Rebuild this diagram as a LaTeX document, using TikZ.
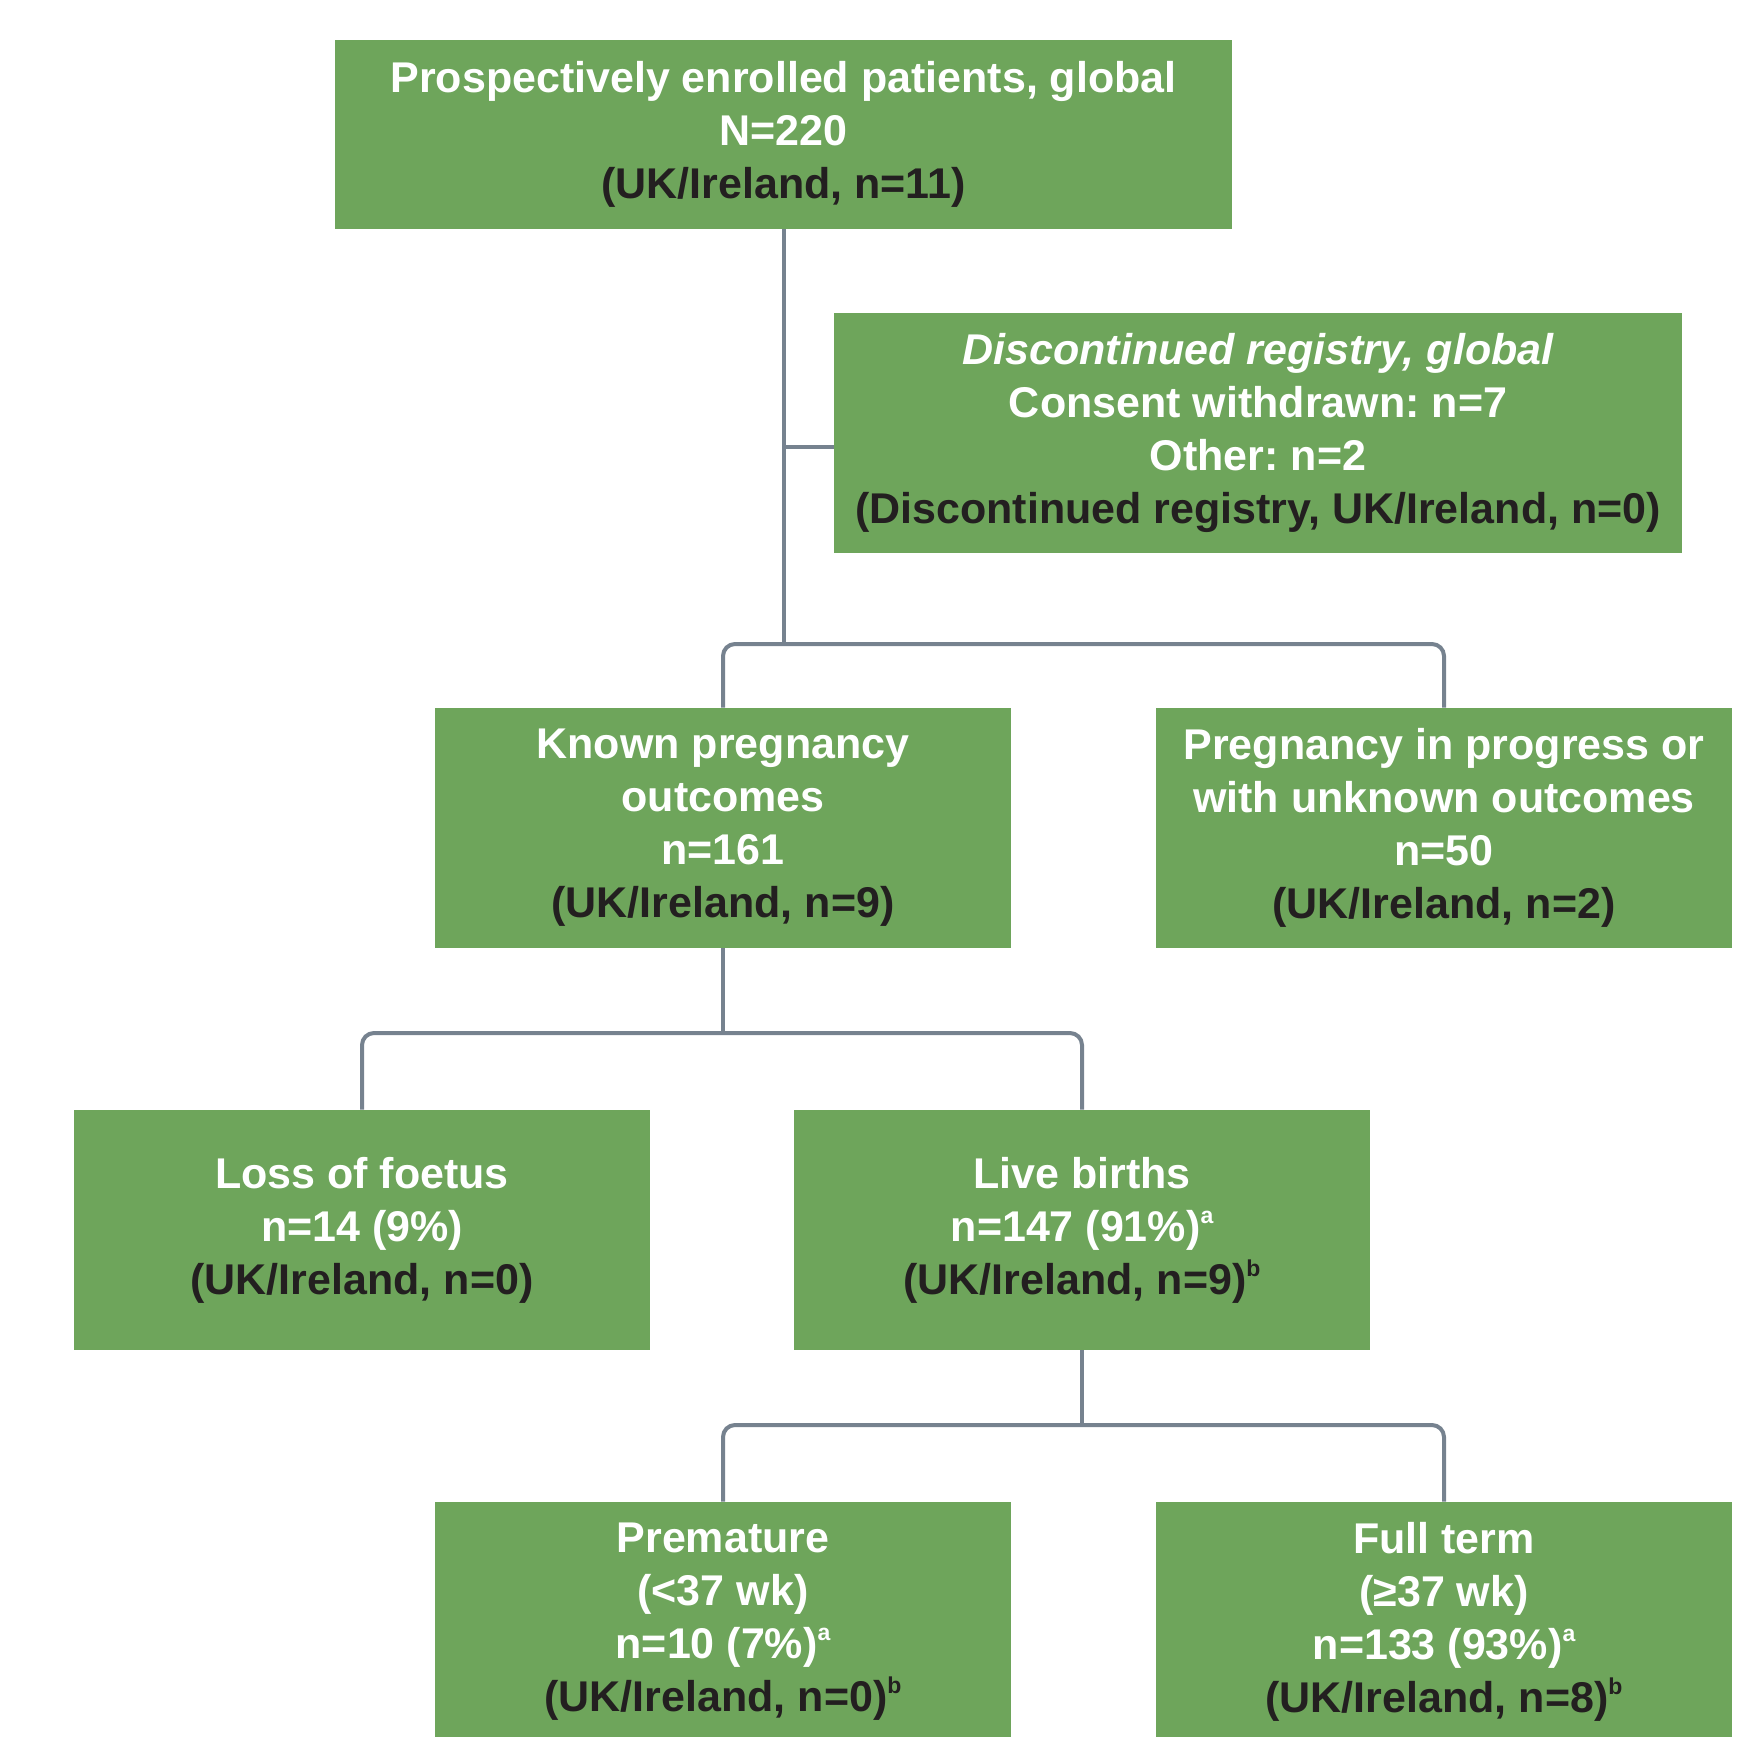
\documentclass[tikz,border=0pt]{standalone}
\usepackage{fontspec}
\setmainfont{Liberation Sans}
\definecolor{boxgreen}{HTML}{6EA55B}
\definecolor{linegray}{HTML}{76828F}
\definecolor{darktext}{HTML}{231F20}
\newcommand{\dk}[1]{\textcolor{darktext}{#1}}
\newcommand{\sups}[1]{\raisebox{0.42em}{\fontsize{11.5}{11.5}\selectfont #1}}
\frenchspacing
\begin{document}
\begin{tikzpicture}[x=0.5pt,y=-0.5pt,
  box/.style={fill=boxgreen, draw=none, inner sep=0pt, align=center, text=white,
    font=\fontsize{21.5}{26.5}\selectfont\bfseries, minimum width=288pt, minimum height=120pt},
  conn/.style={draw=linegray, line width=2pt, rounded corners=6pt}]
\useasboundingbox (0,0) rectangle (1761,1736);
\clip (0,0) rectangle (1761,1736);

\node[box, minimum width=448.5pt, minimum height=94.5pt] (top) at (783.5,134.5)
  {Prospectively enrolled patients, global\\N=220\\\dk{(UK/Ireland, n=11)}};
\node[box, minimum width=424pt] (disc) at (1258,433)
  {\itshape Discontinued registry, global\\Consent withdrawn: n=7\\Other: n=2\\\dk{(Discontinued registry, UK/Ireland, n=0)}};
\node[box] (known) at (723,828)
  {Known pregnancy\\outcomes\\n=161\\\dk{(UK/Ireland, n=9)}};
\node[box] (preg) at (1444,828)
  {Pregnancy in progress or\\with unknown outcomes\\n=50\\\dk{(UK/Ireland, n=2)}};
\node[box] (loss) at (362,1230)
  {Loss of foetus\\n=14 (9\%)\\\dk{(UK/Ireland, n=0)}};
\node[box] (live) at (1082,1230)
  {Live births\\n=147 (91\%)\sups{a}\\\dk{(UK/Ireland, n=9)\sups{b}}};
\node[box] (prem) at (723,1622)
  {Premature\\(<37 wk)\\n=10 (7\%)\sups{a}\\\dk{(UK/Ireland, n=0)\sups{b}}};
\node[box] (full) at (1444,1622)
  {Full term\\(≥37 wk)\\n=133 (93\%)\sups{a}\\\dk{(UK/Ireland, n=8)\sups{b}}};

\coordinate (bar1) at (783.5,644);
\coordinate (stub) at (783.5,447);
\draw[conn] (top.south) -- (bar1);
\draw[conn] (stub) -- (stub -| disc.west);
\draw[conn] (known.north) -- (known.north |- bar1) -- (preg.north |- bar1) -- (preg.north);

\coordinate (bar2) at (723,1033);
\draw[conn] (known.south) -- (bar2);
\draw[conn] (loss.north) -- (loss.north |- bar2) -- (live.north |- bar2) -- (live.north);

\coordinate (bar3) at (1082,1425);
\draw[conn] (live.south) -- (bar3);
\draw[conn] (prem.north) -- (prem.north |- bar3) -- (full.north |- bar3) -- (full.north);
\end{tikzpicture}
\end{document}
